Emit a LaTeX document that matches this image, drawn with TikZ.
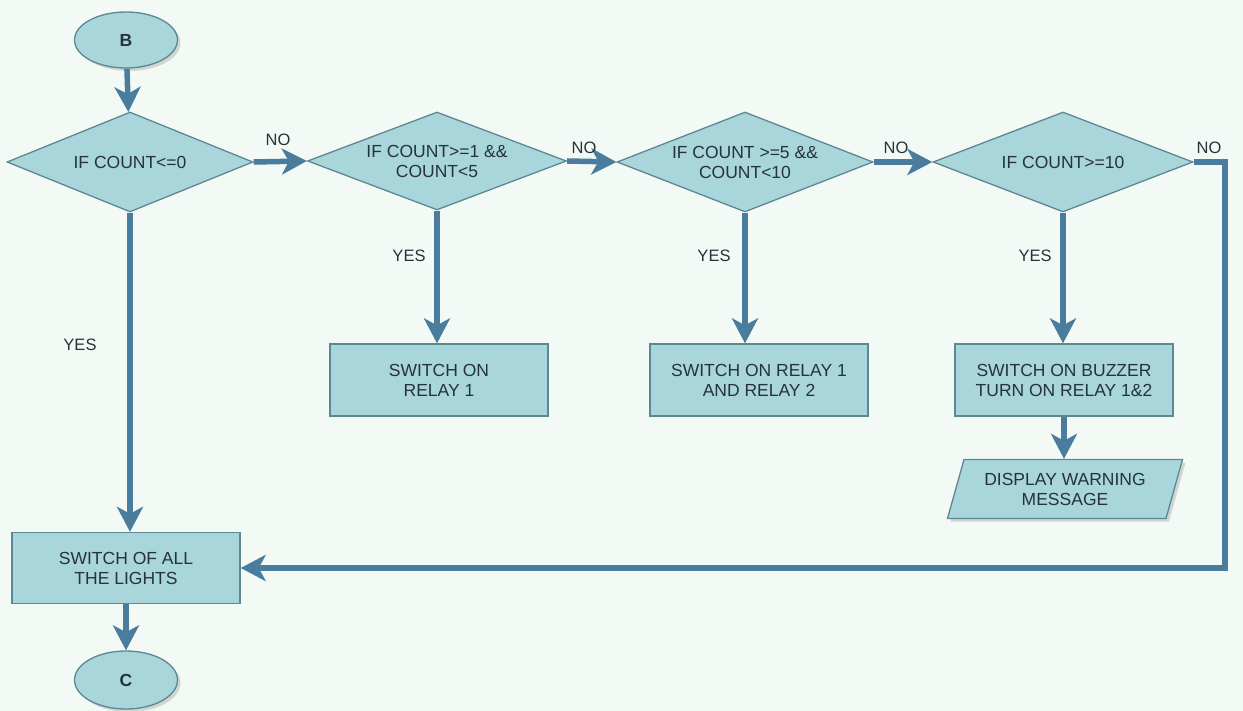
\documentclass[tikz,border=0pt]{standalone}
\usepackage{fontspec}
\setmainfont{Liberation Sans}
\usetikzlibrary{shapes.geometric,arrows.meta,shadows}
\definecolor{bgc}{HTML}{F3F9F4}
\definecolor{fillc}{HTML}{A8D6DB}
\definecolor{borderc}{HTML}{5E8794}
\definecolor{arrowc}{HTML}{4A7C9E}
\definecolor{textc}{HTML}{26323C}
\tikzset{
  base/.style={draw=borderc, fill=fillc, line width=1.3pt, text=textc,
    font=\fontsize{17.5}{20}\selectfont, align=center, inner sep=0pt},
  terminal/.style={base, ellipse, minimum width=103pt, minimum height=56pt,
    drop shadow={shadow xshift=3pt, shadow yshift=-3pt, fill=gray!60}},
  decision/.style={base, diamond, aspect=2.6},
  process/.style={base, rectangle, minimum width=218pt, minimum height=72pt},
  iobox/.style={base, trapezium, trapezium left angle=63, trapezium right angle=117,
    trapezium stretches body, minimum width=235pt, minimum height=59pt,
    drop shadow={shadow xshift=3pt, shadow yshift=-3pt, fill=gray!60}},
  flow/.style={draw=arrowc, line width=5.5pt, line join=miter,
    -{Stealth[length=25pt, width=26pt, inset=7pt]}},
  lbl/.style={text=textc, font=\fontsize{16.5}{19}\selectfont, inner sep=0pt}
}
\begin{document}
\begin{tikzpicture}[x=1pt, y=-1pt]
\useasboundingbox (0,0) rectangle (1243,711);
\fill[bgc] (0,0) rectangle (1243,711);

\node[terminal] (B) at (126,40) {\textbf{B}};
\node[decision, minimum width=246pt, minimum height=100pt] (D1) at (130,162) {IF COUNT<=0};
\node[decision, minimum width=259pt, minimum height=98pt] (D2) at (437,161) {IF COUNT>=1 \&\&\\COUNT<5};
\node[decision, minimum width=256pt, minimum height=100pt] (D3) at (745,162) {IF COUNT >=5 \&\&\\COUNT<10};
\node[decision, minimum width=260pt, minimum height=100pt] (D4) at (1063,162) {IF COUNT>=10};

\node[process] (P1) at (439,380) {SWITCH ON\\RELAY 1};
\node[process] (P2) at (759,380) {SWITCH ON RELAY 1\\AND RELAY 2};
\node[process] (P3) at (1064,380) {SWITCH ON BUZZER\\TURN ON RELAY 1\&2};
\node[iobox] (IO) at (1065,489) {DISPLAY WARNING\\MESSAGE};
\node[process, minimum width=228pt, minimum height=71pt] (P4) at (126,568) {SWITCH OF ALL\\THE LIGHTS};
\node[terminal, minimum height=58pt] (C) at (126,680) {\textbf{C}};

\coordinate (R1) at (1225,162);
\coordinate (R2) at (1225,568);

\draw[flow] (B) -- (D1);
\draw[flow] (D1.east) -- (D2.west);
\draw[flow] (D2.east) -- (D3.west);
\draw[flow] (D3.east) -- (D4.west);
\draw[flow] (D1.south) -- (D1.south |- P4.north);
\draw[flow] (D2.south) -- (D2.south |- P1.north);
\draw[flow] (D3.south) -- (D3.south |- P2.north);
\draw[flow] (D4.south) -- (D4.south |- P3.north);
\draw[flow] (P3) -- (P3.south |- IO.north);
\draw[flow] (P4) -- (C);
\draw[flow] (D4.east) -- (R1) -- (R2) -- (P4.east);

\node[lbl] (n1) at (278,140) {NO};
\node[lbl] (n2) at (584,148) {NO};
\node[lbl] (n3) at (896,148) {NO};
\node[lbl] (n4) at (1209,148) {NO};
\node[lbl] (y1) at (80,345) {YES};
\node[lbl] (y2) at (409,256) {YES};
\node[lbl] (y3) at (714,256) {YES};
\node[lbl] (y4) at (1035,256) {YES};
\end{tikzpicture}
\end{document}
